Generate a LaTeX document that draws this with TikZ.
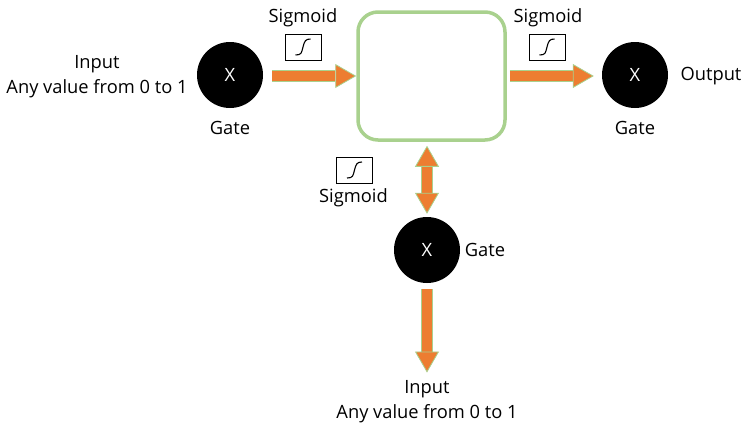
\documentclass[tikz,border=0pt]{standalone}
\usepackage{fontspec}
\setmainfont{Open Sans}
\usetikzlibrary{positioning, arrows.meta}
\definecolor{Flow}{HTML}{ED7D31}
\definecolor{Edge}{HTML}{A9D18E}
\begin{document}
\begin{tikzpicture}[
    x=1pt, y=-1pt,
    font=\fontsize{18.3}{25}\selectfont,
    gateNode/.style={circle, fill=black, text=white, minimum size=66pt, inner sep=0pt},
    cellNode/.style={draw=Edge, line width=3.5pt, rounded corners=20pt, minimum width=147pt, minimum height=128pt},
    labelNode/.style={align=center, inner sep=0pt},
    sigmoidBox/.style={draw, line width=1pt, minimum width=36pt, minimum height=26pt, inner sep=0pt,
      path picture={\draw[line width=1.1pt] ([shift={(-7.5pt,-8pt)}]path picture bounding box.center)
        .. controls +(6pt,0pt) and +(-1.5pt,-6pt) .. (path picture bounding box.center)
        .. controls +(1.5pt,6pt) and +(-5pt,0pt) .. ([shift={(7.5pt,8pt)}]path picture bounding box.center);}},
    flow/.style={draw=Edge, line width=0.8pt, double=Flow, double distance=9.5pt,
      -{Triangle[length=21pt, width=24pt, fill=Flow, line width=0.8pt]}},
    flowBoth/.style={draw=Edge, line width=0.8pt, double=Flow, double distance=9.5pt,
      {Triangle[length=21pt, width=24pt, fill=Flow, line width=0.8pt]}-{Triangle[length=21pt, width=24pt, fill=Flow, line width=0.8pt]}},
  ]
  \useasboundingbox (0,0) rectangle (750,432);
  % main blocks
  \node[cellNode] (cell) at (431.5,76) {};
  \node[gateNode] (gateLeft) at (230,75) {X};
  \node[gateNode] (gateRight) at (635,75) {X};
  \node[gateNode] (gateBottom) at (427,250) {X};
  % labels
  \node[labelNode] (inputLeft) at (97,77) {Input\\Any value from 0 to 1};
  \node[labelNode] (inputBottom) at (427,402) {Input\\Any value from 0 to 1};
  \node[labelNode] (output) at (711,76) {Output};
  \node[labelNode] (gateLeftText) at (230,128) {Gate};
  \node[labelNode] (gateRightText) at (635,128) {Gate};
  \node[labelNode] (gateBottomText) at (485,250) {Gate};
  % sigmoids
  \node[sigmoidBox] (boxLeft) at (303,47) {};
  \node[sigmoidBox] (boxRight) at (547,47) {};
  \node[sigmoidBox] (boxBottom) at (354.5,170) {};
  \node[labelNode] (sigLeft) at (303,18) {Sigmoid};
  \node[labelNode] (sigRight) at (548,18) {Sigmoid};
  \node[labelNode] (sigBottom) at (353.5,198) {Sigmoid};
  % lines
  \draw[flow, shorten <=9pt] (gateLeft.east |- cell.west) -- (cell.west);
  \draw[flow, shorten <=3pt, shorten >=8pt] (cell.east) -- (gateRight.west |- cell.east);
  \draw[flowBoth, shorten <=4pt, shorten >=3pt] (gateBottom.north |- cell.south) -- (gateBottom.north);
  \draw[flow, shorten <=6pt, shorten >=8pt] (gateBottom.south) -- (inputBottom.north);
\end{tikzpicture}
\end{document}
